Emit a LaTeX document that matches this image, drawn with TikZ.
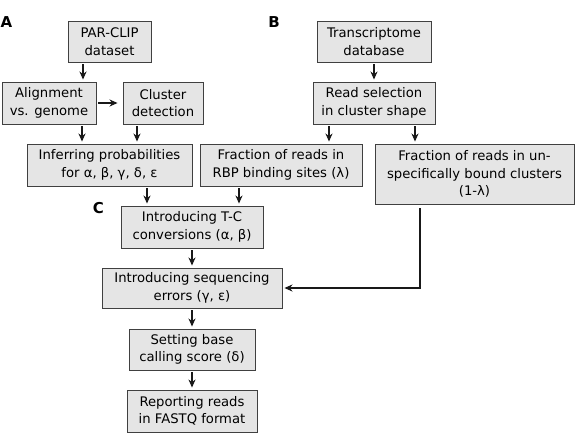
\documentclass[tikz,border=0pt]{standalone}
\usepackage{fontspec}
\setmainfont{DejaVu Sans}
\usetikzlibrary{arrows.meta}
\tikzset{
  box/.style={draw=black!75, fill=black!10, line width=0.9pt, align=center, inner sep=0pt,
    font=\fontsize{13.2}{17.5}\selectfont},
  arr/.style={-{Stealth[length=8pt,width=7pt,inset=2.5pt]}, line width=1.3pt, draw=black!90,
    shorten <=2pt, shorten >=2pt},
  lbl/.style={font=\fontsize{15}{15}\selectfont\bfseries, inner sep=0pt}
}
\begin{document}
\begin{tikzpicture}[x=1pt,y=-1pt]
\useasboundingbox (0,0) rectangle (577,442);
% labels
\node[lbl] (la) at (6.5,22.5) {A};
\node[lbl] (lb) at (274,22.5) {B};
\node[lbl] (lc) at (98.5,208.5) {C};
% A
\node[box, minimum width=83, minimum height=41] (parclip) at (109.5,41.5) {PAR-CLIP\\dataset};
\node[box, minimum width=94, minimum height=42] (align) at (49,103) {Alignment\\vs. genome};
\node[box, minimum width=80, minimum height=42] (cluster) at (163,103) {Cluster\\detection};
\node[box, minimum width=165, minimum height=42] (infer) at (109.5,165) {Inferring probabilities\\for α, β, γ, δ, ε};
% B
\node[box, minimum width=114, minimum height=41] (trans) at (374,41.5) {Transcriptome\\database};
\node[box, minimum width=122, minimum height=42] (readsel) at (374,103) {Read selection\\in cluster shape};
\node[box, minimum width=162, minimum height=42] (rbp) at (281,165) {Fraction of reads in\\RBP binding sites (λ)};
\node[box, minimum width=199, minimum height=60] (unspec) at (474.5,174) {Fraction of reads in un-\\specifically bound clusters\\(1-λ)};
% C
\node[box, minimum width=142, minimum height=42] (tc) at (192,227) {Introducing T-C\\conversions (α, β)};
\node[box, minimum width=180, minimum height=40] (errors) at (192,288) {Introducing sequencing\\errors (γ, ε)};
\node[box, minimum width=126, minimum height=41] (setting) at (192,349.5) {Setting base\\calling score (δ)};
\node[box, minimum width=130, minimum height=42] (report) at (192,411) {Reporting reads\\in FASTQ format};
% arrows
\draw[arr] ([xshift=-26.5]parclip.south) -- ([xshift=34]align.north);
\draw[arr, shorten >=5pt] (align.east) -- (cluster.west);
\draw[arr] ([xshift=33]align.south) -- ([xshift=-27.5]infer.north);
\draw[arr] ([xshift=-26]cluster.south) -- ([xshift=27.5]infer.north);
\draw[arr] (trans.south) -- (readsel.north);
\draw[arr] ([xshift=-45]readsel.south) -- ([xshift=48]rbp.north);
\draw[arr] ([xshift=41]readsel.south) -- ([xshift=-59.5]unspec.north);
\draw[arr] ([xshift=37.5]infer.south) -- ([xshift=-45]tc.north);
\draw[arr] ([xshift=-42]rbp.south) -- ([xshift=47]tc.north);
\draw[arr] (tc.south) -- (errors.north);
\draw[arr] (errors.south) -- (setting.north);
\draw[arr] (setting.south) -- (report.north);
\draw[arr, shorten <=4pt] ([xshift=-54.5]unspec.south) |- (errors.east);
\end{tikzpicture}
\end{document}
